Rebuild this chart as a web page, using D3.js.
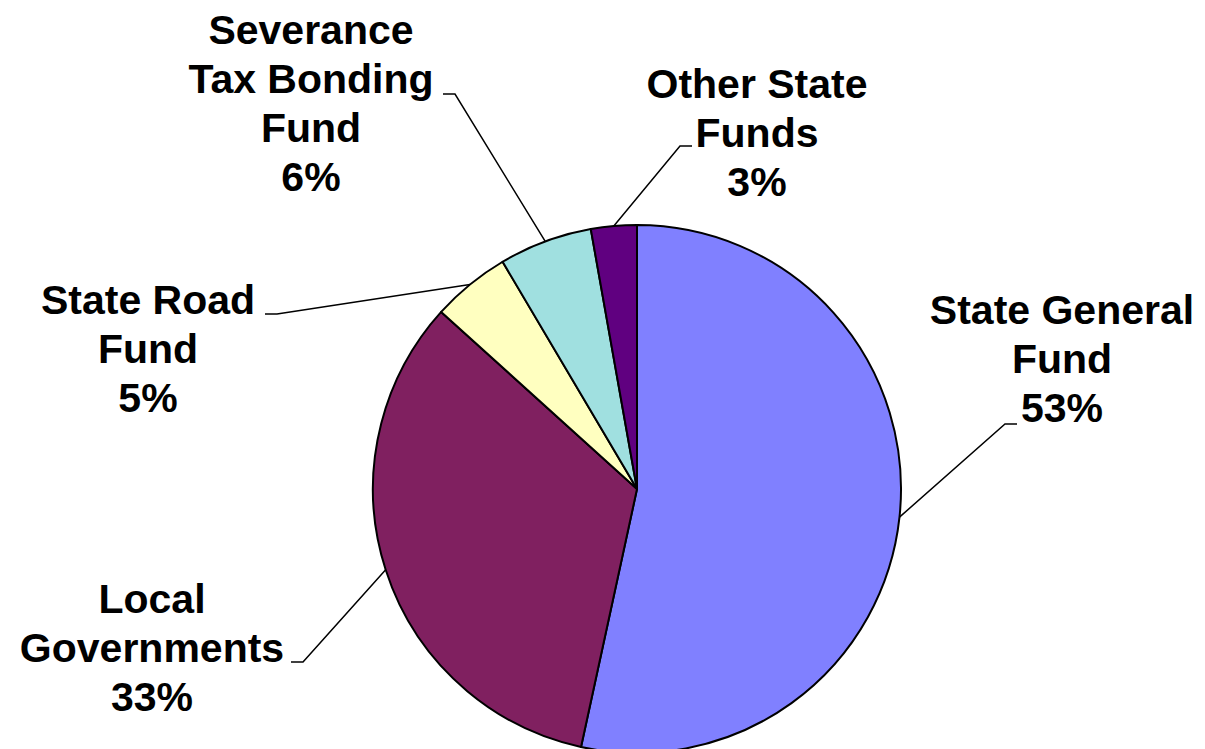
<!DOCTYPE html>
<html>
<head>
<meta charset="utf-8">
<script src="https://cdn.jsdelivr.net/npm/d3@7"></script>
<style>
  html, body { margin: 0; padding: 0; background: #ffffff; }
  svg { display: block; }
  .lbl { font-family: "Liberation Sans", Arial, sans-serif; font-weight: bold; font-size: 41px; fill: #000; }
</style>
</head>
<body>
<svg id="chart" width="1205" height="749"></svg>
<script>
// Funding sources, clockwise from 12 o'clock
const categories = ["State General Fund", "Local Governments", "State Road Fund", "Severance Tax Bonding Fund", "Other State Funds"];
const shares = [53.4, 33.3, 4.8, 5.7, 2.8];
const labelLines = [
  ["State General", "Fund"],
  ["Local", "Governments"],
  ["State Road", "Fund"],
  ["Severance", "Tax Bonding", "Fund"],
  ["Other State", "Funds"]
];
const colors = ["#8080FF", "#802060", "#FFFFC0", "#A0E0E0", "#600080"];

// Label placement: text centre x, first baseline, and the elbow of the leader line
const labelLayout = [
  { cx: 1062, y0: 324, ex: 1005, ey: 424, tick: 12 },
  { cx: 152,  y0: 613, ex: 303,  ey: 662, tick: -12 },
  { cx: 148,  y0: 314, ex: 277,  ey: 314, tick: -12 },
  { cx: 311,  y0: 44,  ex: 455,  ey: 94,  tick: -12 },
  { cx: 757,  y0: 98,  ex: 680,  ey: 146, tick: 12 }
];
const lineStep = 49;

const svg = d3.select("#chart");
const cx = 637, cy = 489, R = 264;

const data = categories.map((c, i) => ({ name: c, value: shares[i], i }));
const pie = d3.pie().sort(null).value(d => d.value).startAngle(0).endAngle(2 * Math.PI);
const arcs = pie(data);
const arc = d3.arc().innerRadius(0).outerRadius(R);
const edge = d3.arc().innerRadius(R).outerRadius(R);

const g = svg.append("g").attr("transform", `translate(${cx},${cy})`);

g.selectAll("path.slice")
  .data(arcs)
  .join("path")
  .attr("class", "slice")
  .attr("d", arc)
  .attr("fill", d => colors[d.data.i])
  .attr("stroke", "#000")
  .attr("stroke-width", 2)
  .attr("stroke-linejoin", "round");

const pct = d3.format(".0f");

// Leader lines from the slice's mid-point on the rim to the label
svg.selectAll("path.leader")
  .data(arcs)
  .join("path")
  .attr("class", "leader")
  .attr("fill", "none")
  .attr("stroke", "#000")
  .attr("stroke-width", 1.5)
  .attr("d", d => {
    const L = labelLayout[d.data.i];
    const a = (d.startAngle + d.endAngle) / 2;
    const px = cx + R * Math.sin(a), py = cy - R * Math.cos(a);
    return `M${px},${py}L${L.ex},${L.ey}L${L.ex + L.tick},${L.ey}`;
  });

// Labels: category name lines plus the rounded share
const lbl = svg.selectAll("text.lbl")
  .data(arcs)
  .join("text")
  .attr("class", "lbl")
  .attr("text-anchor", "middle");

lbl.each(function(d) {
  const L = labelLayout[d.data.i];
  const lines = labelLines[d.data.i].concat([pct(d.data.value) + "%"]);
  d3.select(this).selectAll("tspan")
    .data(lines)
    .join("tspan")
    .attr("x", L.cx)
    .attr("y", (t, k) => L.y0 + k * lineStep)
    .text(t => t);
});
</script>
</body>
</html>
